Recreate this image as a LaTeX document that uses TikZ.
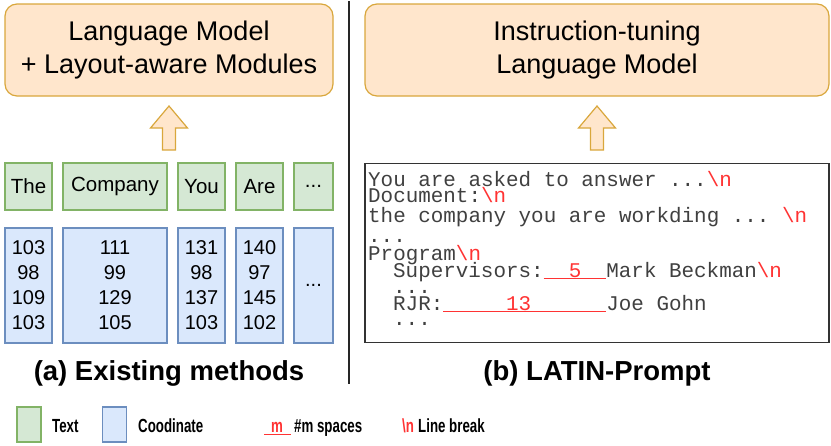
\documentclass[tikz,border=0pt]{standalone}
\usepackage{fontspec}
\setmainfont{Liberation Sans}
\setmonofont{Liberation Mono}
\newfontfamily\narrowfont[FakeStretch=0.7]{Liberation Sans}

\definecolor{txtfill}{HTML}{D5E8D4}
\definecolor{txtdraw}{HTML}{82B366}
\definecolor{crdfill}{HTML}{DAE8FC}
\definecolor{crddraw}{HTML}{6C8EBF}
\definecolor{lmfill}{HTML}{FFE6CC}
\definecolor{lmdraw}{HTML}{D9A73C}
\definecolor{nred}{HTML}{FF3333}
\definecolor{codegray}{HTML}{404040}

\newcommand{\brk}{{\color{nred}\textbackslash n}}
\newcommand{\mspaces}[3]{{\color{nred}\underline{\phantom{#1}#2\phantom{#3}}}}
\newcommand{\tdots}{...}

\begin{document}
\begin{tikzpicture}[
    x=1pt, y=-1pt,
    model/.style={draw=lmdraw, fill=lmfill, line width=1.2pt, rounded corners=12pt,
                  minimum height=92pt, align=center, font=\fontsize{27}{33}\selectfont},
    word/.style={draw=txtdraw, fill=txtfill, line width=1.2pt, minimum height=47pt,
                 inner sep=0pt, font=\fontsize{20.5}{25}\selectfont},
    coord/.style={draw=crddraw, fill=crdfill, line width=1.2pt, minimum height=115pt,
                  inner sep=0pt, align=center, font=\fontsize{20}{25}\selectfont},
    prompt/.style={draw=black!80, line width=1.4pt, minimum width=464pt, minimum height=179pt},
    codeline/.style={anchor=base west, inner sep=0pt, text=codegray,
                     font=\fontsize{20.9}{21}\ttfamily},
    uparrow/.style={draw=lmdraw, fill=lmfill, line width=1.2pt, line join=miter},
    caption/.style={anchor=base, font=\fontsize{27.5}{30}\bfseries},
    legend/.style={anchor=base west, inner sep=0pt, font=\fontsize{19}{20}\narrowfont\bfseries},
    sep/.style={line width=1.2pt, black!85}
]
    \useasboundingbox (0,0) rectangle (831,445);

    % top models
    \node[model, minimum width=328pt] (lmleft) at (169,50) {Language Model\\+ Layout-aware Modules};
    \node[model, minimum width=464pt] (lmright) at (597,50) {Instruction-tuning\\Language Model};

    % arrows into the models
    \foreach \cx in {169,597}
        \draw[uparrow] (\cx,106) -- (\cx+18.5,128) -- (\cx+6.5,128) -- (\cx+6.5,150)
            -- (\cx-6.5,150) -- (\cx-6.5,128) -- (\cx-18.5,128) -- cycle;

    % words and their coordinates
    \foreach \name/\cx/\w/\wrd/\nums in {
        the/28.5/47/The/{103\\98\\109\\103},
        company/115/104/Company/{111\\99\\129\\105},
        you/201.5/47/You/{131\\98\\137\\103},
        are/259.5/47/Are/{140\\97\\145\\102},
        more/313.5/39/{\tdots}/{\tdots}}
    {
        \node[word, minimum width=\w pt] (w-\name) at (\cx,186.5) {\wrd};
        \node[coord, minimum width=\w pt] (c-\name) at (\cx,285.5) {\nums};
    }

    % separator
    \draw[sep] (349,1) -- (349,384);

    % prompt
    \node[prompt] (prompt) at (597,253) {};
    \node[codeline] (l1) at (368,186) {You are asked to answer ...\brk};
    \node[codeline] (l2) at (368,202) {Document:\brk};
    \node[codeline] (l3) at (368,222) {the company you are workding ... \brk};
    \node[codeline] (l4) at (368,242) {...};
    \node[codeline] (l5) at (368,260) {Program\brk};
    \node[codeline] (l6) at (393,277) {Supervisors:\mspaces{00}{5}{00}Mark Beckman\brk};
    \node[codeline] (l7) at (393,293) {...};
    \node[codeline] (l8) at (393,310) {RJR:\mspaces{00000}{13}{000000}Joe Gohn};
    \node[codeline] (l9) at (393,325) {...};

    % captions
    \node[caption] (capa) at (169,380) {(a) Existing methods};
    \node[caption] (capb) at (597,380) {(b) LATIN-Prompt};

    % legend
    \node[draw=txtdraw, fill=txtfill, line width=1.2pt, minimum width=24pt, minimum height=35pt] (legtxt) at (29,424.5) {};
    \node[legend] (legtxtl) at (52,432) {Text};
    \node[draw=crddraw, fill=crdfill, line width=1.2pt, minimum width=24pt, minimum height=35pt] (legcrd) at (114.5,424.5) {};
    \node[legend] (legcrdl) at (138,432) {Coodinate};
    \node[legend, text=nred] (legm) at (271,432) {m};
    \coordinate (mleft) at (264,434.5);
    \coordinate (mright) at (291,434.5);
    \draw[nred, line width=1.2pt] (mleft) -- (mright);
    \node[legend] (legml) at (294,432) {\#m spaces};
    \node[legend, text=nred] (legn) at (402,432) {\textbackslash n};
    \node[legend] (legnl) at (418,432) {Line break};
\end{tikzpicture}
\end{document}
